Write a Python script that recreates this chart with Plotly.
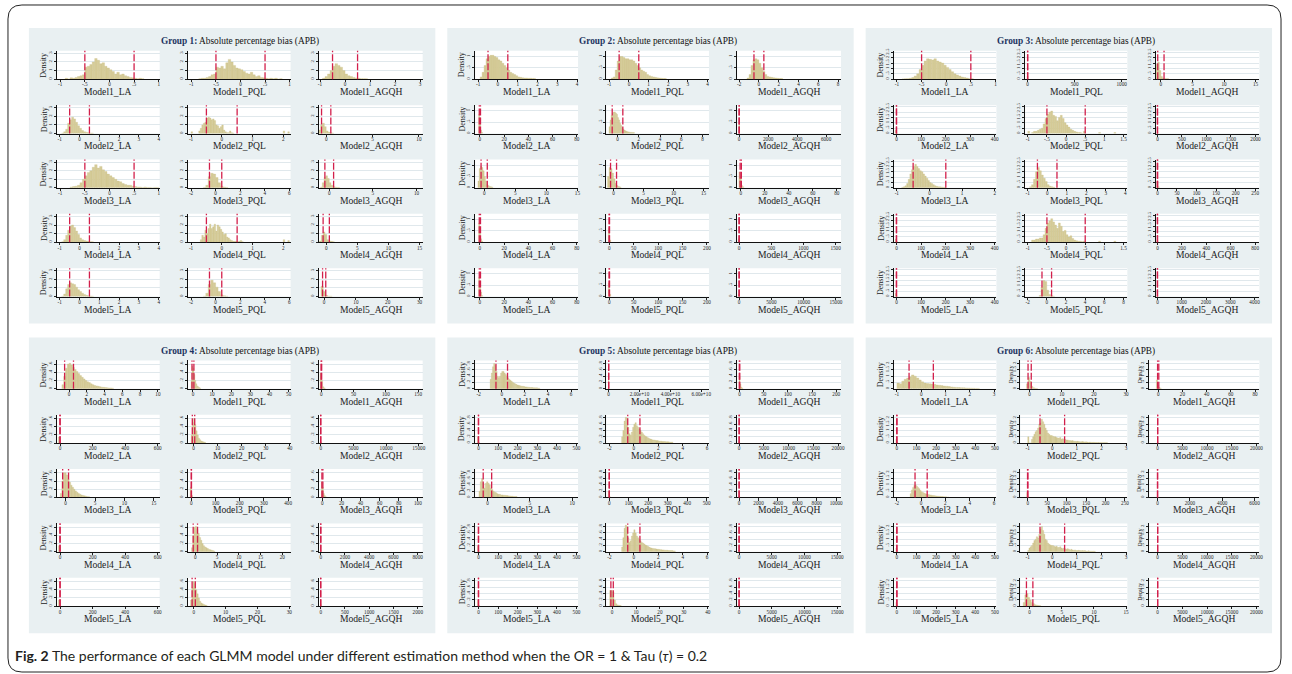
import re
import plotly.graph_objects as go

W, H = 1292, 674

MODELS = ["Model1", "Model2", "Model3", "Model4", "Model5"]
METHODS = ["LA", "PQL", "AGQH"]
GROUP_LABELS = ["Group 1:", "Group 2:", "Group 3:", "Group 4:", "Group 5:", "Group 6:"]
SUBTITLE = "Absolute percentage bias (APB)"
BOUNDS = [-0.5, 0.5]
CAPTION_BOLD = "Fig. 2"
CAPTION = "The performance of each GLMM model under different estimation method when the OR = 1 &amp; Tau (<i>τ</i>) = 0.2"

Y_TICKS = [[0, 1, 2, 3], [0, .5, 1], [0, .5, 1, 1.5, 2, 2.5], [0, .2, .4, .6], [0, .2, .4, .6, .8], [0, .5, 1, 1.5, 2]]
Y_TOP = [3.3, 1.25, 2.65, 0.69, 0.9, 2.25]

# ---------------- Group 1 ----------------
G1_RANGE = [[-1.07, 1.02], [-1.07, 1.02], [-1.05, 3.1],
            [-1.15, 4.05], [-1.1, 2.24], [-0.8, 10.4],
            [-1.07, 1.02], [-2.25, 6.1], [-1.2, 10.7],
            [-1.15, 4.05], [-1.1, 2.24], [-1.2, 15.5],
            [-1.15, 4.05], [-2.25, 6.1], [-1.7, 31]]
G1_TICKS = [[-1, -.5, 0, .5, 1], [-1, -.5, 0, .5, 1], [-1, 0, 1, 2, 3],
            [-1, 0, 1, 2, 3, 4], [-1, 0, 1, 2], [0, 5, 10],
            [-1, -.5, 0, .5, 1], [-2, 0, 2, 4, 6], [0, 5, 10],
            [-1, 0, 1, 2, 3, 4], [-1, 0, 1, 2], [0, 5, 10, 15],
            [-1, 0, 1, 2, 3, 4], [-2, 0, 2, 4, 6], [0, 10, 20, 30]]
G1_HIST = [
    [-0.9, 0.05, [0.1, 0, 0.15, 0.1, 0.2, 0.3, 0.4, 0.5, 1.4, 1.5, 1.7, 2.0, 2.4, 2.2, 1.8, 1.9, 1.5, 1.3, 1.1, 0.9, 0.6, 0.8, 0.5, 0.6, 0.4, 0.3, 0.2, 0.15, 0.1, 0.05, 0.1, 0.05]],
    [-0.85, 0.05, [0.05, 0.1, 0.1, 0.2, 0.3, 0.5, 0.6, 1.4, 1.3, 1.5, 1.2, 1.9, 2.3, 2.0, 1.6, 1.3, 1.2, 1.1, 0.9, 0.7, 0.6, 0.8, 0.5, 0.3, 0.4, 0.2, 0.15, 0.1, 0.05, 0.1, 0.05, 0.1, 0, 0.05]],
    [-0.9, 0.1, [0.1, 0.3, 0.6, 1.0, 1.5, 1.8, 1.6, 1.4, 1.0, 0.6, 0.4, 0.3, 0.2, 0.12, 0.1, 0.06, 0.05, 0.05]],
    [-0.9, 0.1, [0.05, 0.2, 0.5, 1.2, 1.6, 1.9, 1.7, 1.3, 0.9, 0.6, 0.35, 0.2, 0.15, 0.1, 0.06, 0.05]],
    [-0.75, 0.05, [0.3, 0.6, 1.0, 1.2, 1.3, 1.8, 1.9, 1.8, 1.6, 1.7, 1.5, 1.0, 0.9, 0.6, 0.8, 1.0, 0.4, 0.2, 0.1, 0.1, 0.3, 0.1, 0.05]],
    [-1.0, 0.2, [0.1, 0.4, 1.0, 1.2, 0.8, 0.3, 0.15, 0.1, 0.05]],
    [-0.8, 0.05, [0.1, 0.15, 0.2, 0.3, 0.6, 1.0, 1.4, 1.8, 2.0, 2.4, 2.7, 2.3, 2.5, 2.1, 1.9, 1.6, 1.4, 1.2, 1.0, 0.8, 0.7, 0.5, 0.4, 0.3, 0.3, 0.2, 0.15, 0.1, 0.1, 0.05, 0.1, 0.05, 0.05, 0, 0.05, 0.05]],
    [-1.0, 0.2, [0.05, 0.3, 1.3, 1.7, 1.6, 1.2, 0.6, 0.2, 0.1, 0.05]],
    [-1.0, 0.2, [0.1, 0.6, 1.2, 1.4, 1.1, 0.6, 0.3, 0.15, 0.1, 0.05, 0.05]],
    [-0.9, 0.1, [0.05, 0.3, 0.8, 1.4, 1.9, 2.0, 1.7, 1.3, 0.9, 0.5, 0.3, 0.2, 0.15, 0.1, 0.06, 0.05]],
    [-0.7, 0.05, [0.3, 0.8, 0.6, 1.4, 1.0, 1.6, 2.1, 1.6, 1.8, 2.1, 1.3, 2.0, 1.8, 1.5, 1.2, 0.9, 1.0, 0.6, 0.5, 0.3, 0.2, 0.1, 0.1, 0.1, 0.05, 0.1, 0.2, 0.05]],
    [-1.1, 0.3, [0.15, 0.8, 1.2, 0.9, 0.3, 0.15, 0.1, 0.05]],
    [-0.9, 0.1, [0.05, 0.3, 0.9, 1.4, 1.6, 1.5, 1.4, 1.1, 0.8, 0.6, 0.4, 0.25, 0.15, 0.1, 0.06, 0.05]],
    [-1.0, 0.2, [0.05, 0.4, 1.4, 1.9, 1.6, 1.1, 0.6, 0.2, 0.1, 0.05]],
    [-1.0, 0.7, [1.2, 0.6, 0.15, 0.05, 0.05]],
]
G1_EXTRA = [[], [], [], [], [[-0.975, 0.2], [2.025, 0.3], [2.175, 0.2]], [], [], [], [],
            [], [[2.025, 0.3], [2.175, 0.2]], [], [], [], []]

# ---------------- Group 2 ----------------
G2_RANGE = [[-1.15, 4.05], [-1.15, 4.07], [-2.2, 8.3],
            [-3.9, 81], [-1.05, 8.6], [-140, 7030],
            [-1.45, 15.1], [-1.2, 15.9], [-3, 83.6],
            [-3.9, 81], [-6, 204], [-31, 1585],
            [-3.9, 81], [-6, 204], [-310, 15800]]
G2_TICKS = [[-1, 0, 1, 2, 3, 4], [-1, 0, 1, 2, 3, 4], [-2, 0, 2, 4, 6, 8],
            [0, 20, 40, 60, 80], [0, 2, 4, 6, 8], [0, 2000, 4000, 6000],
            [0, 5, 10, 15], [0, 5, 10, 15], [0, 20, 40, 60, 80],
            [0, 20, 40, 60, 80], [0, 50, 100, 150, 200], [0, 500, 1000, 1500],
            [0, 20, 40, 60, 80], [0, 50, 100, 150, 200], [0, 5000, 10000, 15000]]
G2_HIST = [
    [-0.9, 0.1, [0.1, 0.3, 0.6, 0.9, 1.0, 1.05, 1.05, 1.0, 0.95, 0.85, 0.8, 0.7, 0.6, 0.5, 0.4, 0.3, 0.25, 0.2, 0.15, 0.1, 0.08, 0.06, 0.05, 0.05, 0.04, 0.04, 0.03, 0.03]],
    [-0.9, 0.1, [0.05, 0.1, 0.4, 0.8, 1.0, 1.0, 0.95, 0.9, 0.9, 0.85, 0.85, 0.8, 0.7, 0.6, 0.5, 0.4, 0.35, 0.3, 0.2, 0.15, 0.12, 0.1, 0.08, 0.06, 0.05, 0.04, 0.03, 0.03]],
    [-1.2, 0.2, [0.05, 0.2, 0.6, 0.85, 0.9, 0.85, 0.7, 0.5, 0.35, 0.2, 0.12, 0.1, 0.08, 0.06, 0.05, 0.04, 0.03, 0.03]],
    [-1.0, 0.8, [0.85, 0.7, 0.15, 0.05]],
    [-0.8, 0.1, [0.3, 0.6, 0.8, 0.9, 0.95, 0.95, 0.9, 0.85, 0.7, 0.6, 0.45, 0.35, 0.25, 0.2, 0.15, 0.12, 0.1, 0.08, 0.07, 0.06, 0.05, 0.05, 0.04, 0.04]],
    [-25, 50, [0.4]],
    [-1.0, 0.2, [0.3, 0.85, 0.95, 0.9, 0.75, 0.5, 0.3, 0.15, 0.1, 0.06, 0.05, 0.04]],
    [-1.0, 0.25, [0.5, 0.9, 0.85, 0.65, 0.4, 0.2, 0.1, 0.06, 0.04]],
    [-1.5, 1.0, [0.7, 0.5, 0.1, 0.05]],
    [-1.0, 0.8, [0.85, 0.7, 0.15, 0.05]],
    [-2.0, 2.5, [0.6, 0.1]],
    [-15, 20, [0.15]],
    [-1.0, 0.8, [0.85, 0.7, 0.2, 0.05]],
    [-2.0, 2.5, [0.6, 0.1]],
    [-150, 200, [0.1]],
]
G2_EXTRA = [[] for _ in range(15)]

# ---------------- Group 3 ----------------
G3_RANGE = [[-1.07, 1.02], [-31, 1060], [-0.85, 15.6],
            [-12, 407], [-1.08, 1.6], [-40, 2080],
            [-1.1, 2.05], [-1.15, 4.1], [-5, 261],
            [-12, 407], [-1.08, 1.6], [-16, 835],
            [-12, 407], [-2.3, 8.4], [-80, 4200]]
G3_TICKS = [[-1, -.5, 0, .5, 1], [0, 500, 1000], [0, 5, 10, 15],
            [0, 100, 200, 300, 400], [-1, -.5, 0, .5, 1, 1.5], [0, 500, 1000, 1500, 2000],
            [-1, 0, 1, 2], [-1, 0, 1, 2, 3, 4], [0, 50, 100, 150, 200, 250],
            [0, 100, 200, 300, 400], [-1, -.5, 0, .5, 1, 1.5], [0, 200, 400, 600, 800],
            [0, 100, 200, 300, 400], [-2, 0, 2, 4, 6, 8], [0, 1000, 2000, 3000, 4000]]
G3_HIST = [
    [-0.9, 0.05, [0.02, 0.03, 0.05, 0.08, 0.15, 0.3, 0.5, 0.9, 1.3, 1.7, 1.9, 1.85, 1.8, 1.9, 1.7, 1.6, 1.5, 1.3, 1.1, 0.9, 0.7, 0.5, 0.4, 0.3, 0.2, 0.15, 0.1, 0.05, 0.05]],
    [-5, 10, [0.3]],
    [-1.0, 0.25, [0.3, 1.4, 1.6, 0.8, 0.25, 0.1, 0.05, 0.05, 0.05]],
    [-5, 5, [0.3, 0.05]],
    [-0.9, 0.05, [0.1, 0.2, 0.2, 0.3, 0.4, 0.5, 0.9, 1.4, 1.8, 2.0, 2.1, 1.7, 1.6, 1.2, 1.5, 1.7, 1.4, 1.0, 0.8, 0.6, 0.4, 0.3, 0.2, 0.15, 0.1, 0.1, 0, 0.2]],
    [-10, 20, [0.15]],
    [-0.85, 0.05, [0.05, 0.1, 0.2, 0.4, 0.8, 1.3, 1.7, 2.0, 2.2, 2.0, 1.8, 1.6, 1.5, 1.3, 1.1, 0.9, 0.7, 0.5, 0.4, 0.3, 0.2, 0.15, 0.1, 0.1, 0.08, 0.05, 0.05]],
    [-0.9, 0.1, [0.1, 0.3, 0.8, 1.5, 1.9, 1.6, 1.2, 0.9, 0.6, 0.3, 0.15, 0.1, 0.05]],
    [-1.5, 3, [0.6, 0.1]],
    [-5, 5, [0.3, 0.05]],
    [-0.9, 0.05, [0.2, 0.2, 0.3, 0.3, 0.4, 0.4, 0.7, 1.3, 1.8, 2.0, 2.2, 1.9, 1.6, 1.3, 1.8, 1.5, 1.0, 1.1, 0.7, 0.5, 0.6, 0.35, 0.2, 0.15, 0.1, 0.1, 0.05, 0.1]],
    [-5, 10, [0.15]],
    [-5, 5, [0.3, 0.05]],
    [-0.8, 0.2, [0.1, 0.9, 1.5, 1.4, 0.6, 0.2, 0.1, 0.05]],
    [-20, 40, [0.1]],
]
G3_EXTRA = [[], [], [], [], [[-0.975, 0.2], [0.875, 0.1], [1.275, 0.1]], [], [], [], [],
            [], [[0.875, 0.1], [1.275, 0.1]], [], [], [], []]

# ---------------- Group 4 ----------------
G4_RANGE = [[-1.38, 10.2], [-2.6, 51], [-4, 157],
            [-20, 612], [-2.3, 40.3], [-300, 15600],
            [-1.5, 16], [-14, 410], [-3.8, 105],
            [-20, 612], [-1.7, 21.9], [-165, 8410],
            [-20, 612], [-1.8, 30.4], [-40, 2100]]
G4_TICKS = [[0, 2, 4, 6, 8, 10], [0, 10, 20, 30, 40, 50], [0, 50, 100, 150],
            [0, 200, 400, 600], [0, 10, 20, 30, 40], [0, 5000, 10000, 15000],
            [0, 5, 10, 15], [0, 100, 200, 300, 400], [0, 20, 40, 60, 80, 100],
            [0, 200, 400, 600], [0, 5, 10, 15, 20], [0, 2000, 4000, 6000, 8000],
            [0, 200, 400, 600], [0, 10, 20, 30], [0, 500, 1000, 1500, 2000]]
G4_HIST = [
    [-0.8, 0.2, [0.1, 0.3, 0.5, 0.6, 0.62, 0.58, 0.52, 0.47, 0.42, 0.37, 0.32, 0.28, 0.24, 0.2, 0.17, 0.15, 0.12, 0.1, 0.08, 0.07, 0.06, 0.05, 0.04, 0.035, 0.03, 0.025, 0.02, 0.02, 0.015]],
    [-1.0, 0.5, [0.2, 0.55, 0.5, 0.35, 0.2, 0.12, 0.07, 0.05, 0.03, 0.02]],
    [-2, 2, [0.38, 0.2, 0.05, 0.02]],
    [-10, 10, [0.15]],
    [-1.0, 0.5, [0.2, 0.5, 0.6, 0.45, 0.3, 0.2, 0.12, 0.08, 0.05, 0.04, 0.03, 0.02]],
    [-100, 200, [0.03]],
    [-0.9, 0.25, [0.1, 0.4, 0.6, 0.6, 0.55, 0.45, 0.37, 0.3, 0.25, 0.2, 0.16, 0.13, 0.1, 0.08, 0.06, 0.05, 0.04, 0.03, 0.02, 0.02]],
    [-5, 5, [0.25, 0.05]],
    [-1, 1, [0.38, 0.25, 0.1, 0.05, 0.02]],
    [-10, 10, [0.15]],
    [-0.9, 0.3, [0.1, 0.4, 0.6, 0.62, 0.55, 0.45, 0.35, 0.28, 0.2, 0.15, 0.12, 0.1, 0.08, 0.06, 0.05, 0.04, 0.03, 0.02]],
    [-50, 100, [0.03]],
    [-10, 10, [0.15]],
    [-1.0, 0.4, [0.15, 0.45, 0.6, 0.55, 0.4, 0.3, 0.2, 0.12, 0.08, 0.06, 0.04, 0.03, 0.02]],
    [-10, 20, [0.05]],
]
G4_EXTRA = [[] for _ in range(15)]

# ---------------- Group 5 ----------------
G5_RANGE = [[-2.3, 6.6], [-1.5e9, 6.5e10], [-5, 210],
            [-17, 508], [-2.25, 6.15], [-410, 20600],
            [-1.45, 10.7], [-15, 512], [-205, 10500],
            [-17, 508], [-2.25, 6.15], [-300, 15600],
            [-17, 508], [-2.4, 40.5], [-300, 15600]]
G5_TICKS = [[-2, 0, 2, 4, 6], [0, 2e10, 4e10, 6e10], [0, 50, 100, 150, 200],
            [0, 100, 200, 300, 400, 500], [-2, 0, 2, 4, 6], [0, 5000, 10000, 15000, 20000],
            [0, 5, 10], [0, 100, 200, 300, 400, 500], [0, 2000, 4000, 6000, 8000, 10000],
            [0, 100, 200, 300, 400, 500], [-2, 0, 2, 4, 6], [0, 5000, 10000, 15000],
            [0, 100, 200, 300, 400, 500], [0, 10, 20, 30, 40], [0, 5000, 10000, 15000]]
G5_HIST = [
    [-1.0, 0.1, [0.3, 0.5, 0.7, 0.8, 0.75, 0.55, 0.4, 0.35, 0.4, 0.5, 0.55, 0.55, 0.5, 0.45, 0.4, 0.35, 0.3, 0.27, 0.24, 0.21, 0.18, 0.16, 0.14, 0.12, 0.11, 0.1, 0.09, 0.08, 0.08, 0.07, 0.06, 0.06, 0.05, 0.05, 0.04, 0.04, 0.04, 0.03, 0.03, 0.03, 0.03, 0.02, 0.02]],
    [-1e8, 2e8, [0.3]],
    [-1, 2, [0.4, 0.15, 0.05, 0.02]],
    [-5, 5, [0.2, 0.03]],
    [-1.0, 0.1, [0.2, 0.4, 0.7, 0.82, 0.8, 0.5, 0.3, 0.25, 0.35, 0.5, 0.6, 0.65, 0.55, 0.5, 0.45, 0.4, 0.35, 0.3, 0.25, 0.22, 0.2, 0.17, 0.15, 0.13, 0.12, 0.1, 0.1, 0.09, 0.08, 0.08, 0.07, 0.06, 0.06, 0.05, 0.05, 0.05, 0.04, 0.04, 0.04, 0.03, 0.03, 0.03]],
    [-100, 200, [0.05]],
    [-1.0, 0.15, [0.2, 0.5, 0.6, 0.45, 0.3, 0.45, 0.5, 0.45, 0.4, 0.3, 0.25, 0.2, 0.17, 0.15, 0.12, 0.1, 0.1, 0.08, 0.08, 0.07, 0.07, 0.06, 0.06, 0.05, 0.05, 0.04, 0.04, 0.03, 0.03, 0.03]],
    [-5, 5, [0.2, 0.03]],
    [-50, 100, [0.05]],
    [-5, 5, [0.18, 0.03]],
    [-1.0, 0.1, [0.15, 0.45, 0.75, 0.85, 0.8, 0.45, 0.3, 0.35, 0.5, 0.6, 0.7, 0.6, 0.5, 0.45, 0.4, 0.35, 0.3, 0.28, 0.25, 0.22, 0.2, 0.18, 0.15, 0.13, 0.12, 0.11, 0.1, 0.1, 0.09, 0.08, 0.08, 0.07, 0.07, 0.06, 0.06, 0.05, 0.05, 0.05, 0.04, 0.04, 0.04, 0.04, 0.03, 0.03]],
    [-100, 200, [0.05]],
    [-5, 5, [0.2, 0.03]],
    [-1.0, 0.6, [0.5, 0.5, 0.45, 0.2, 0.08, 0.04, 0.03, 0.02]],
    [-100, 200, [0.05]],
]
G5_EXTRA = [[] for _ in range(15)]

# ---------------- Group 6 ----------------
G6_RANGE = [[-1.14, 3.1], [-2.9, 30.4], [-7.4, 83.6],
            [-17, 508], [-1.3, 3.05], [-1700, 20600],
            [-2.27, 6.2], [-19, 256], [-514, 6300],
            [-17, 508], [-1.3, 3.05], [-1700, 20600],
            [-17, 508], [-1.45, 15.2], [-1700, 20600]]
G6_TICKS = [[-1, 0, 1, 2, 3], [0, 10, 20, 30], [0, 20, 40, 60, 80],
            [0, 100, 200, 300, 400, 500], [-1, 0, 1, 2, 3], [0, 5000, 10000, 15000, 20000],
            [-2, 0, 2, 4, 6], [0, 50, 100, 150, 200, 250], [0, 2000, 4000, 6000],
            [0, 100, 200, 300, 400, 500], [-1, 0, 1, 2, 3], [0, 5000, 10000, 15000, 20000],
            [0, 100, 200, 300, 400, 500], [0, 5, 10, 15], [0, 5000, 10000, 15000, 20000]]
G6_HIST = [
    [-1.0, 0.1, [0.45, 0.4, 0.6, 0.75, 0.85, 0.95, 1.1, 1.0, 0.85, 0.7, 0.55, 0.45, 0.42, 0.4, 0.38, 0.35, 0.3, 0.28, 0.25, 0.22, 0.2, 0.18, 0.15, 0.12, 0.11, 0.1, 0.09, 0.08, 0.07, 0.06, 0.05, 0.04, 0.03, 0.03]],
    [-1.0, 0.5, [0.4, 0.9, 0.6, 0.2, 0.08, 0.04, 0.02]],
    [-1.5, 1, [0.7, 0.3, 0.1, 0.05]],
    [-5, 5, [0.3, 0.05]],
    [-1.0, 0.05, [0.5, 0, 0, 0.3, 0.5, 0.7, 0.9, 1.0, 1.2, 1.5, 1.6, 1.9, 1.7, 1.5, 1.2, 1.0, 0.8, 0.7, 0.6, 0.6, 0.55, 0.5, 0.5, 0.45, 0.4, 0.4, 0.45, 0.3, 0.35, 0.3, 0.3, 0.25, 0.25, 0.2, 0.2, 0.18, 0.2, 0.15, 0.15, 0.12, 0.15, 0.12, 0.1, 0.1, 0.12, 0.1, 0.08, 0.1, 0.08, 0.06, 0.08, 0.06, 0.05, 0.06, 0.05, 0.05, 0.04, 0.05, 0.04, 0.04, 0.03, 0.03, 0.03, 0.03, 0.03]],
    [-100, 200, [0.05]],
    [-0.9, 0.1, [0.3, 0.6, 0.8, 0.95, 1.0, 0.9, 0.8, 0.7, 0.55, 0.45, 0.4, 0.35, 0.3, 0.28, 0.25, 0.22, 0.2, 0.18, 0.16, 0.15, 0.13, 0.12, 0.1, 0.1, 0.09, 0.08, 0.07, 0.06, 0.05, 0.05, 0.04, 0.04]],
    [-2.5, 3, [0.4, 0.05]],
    [-30, 60, [0.03]],
    [-5, 5, [0.3, 0.05]],
    [-1.0, 0.05, [0.1, 0.3, 0.4, 0.5, 0.7, 0.9, 1.0, 1.2, 1.1, 1.4, 1.8, 2.0, 1.7, 1.4, 1.0, 0.9, 0.7, 0.6, 0.55, 0.5, 0.5, 0.45, 0.4, 0.45, 0.35, 0.35, 0.4, 0.3, 0.25, 0.3, 0.25, 0.2, 0.25, 0.2, 0.15, 0.2, 0.15, 0.12, 0.15, 0.1, 0.1, 0.12, 0.1, 0.08, 0.1, 0.08, 0.1, 0.06, 0.05, 0.08, 0.05, 0.05, 0.04, 0.05, 0.04]],
    [-100, 200, [0.05]],
    [-5, 5, [0.3, 0.05]],
    [-1.0, 0.25, [0.3, 0.9, 1.0, 0.7, 0.5, 0.3, 0.2, 0.12, 0.08, 0.05, 0.04]],
    [-100, 200, [0.05]],
]
G6_EXTRA = [[] for _ in range(15)]

GROUPS = [
    (G1_RANGE, G1_TICKS, G1_HIST, G1_EXTRA),
    (G2_RANGE, G2_TICKS, G2_HIST, G2_EXTRA),
    (G3_RANGE, G3_TICKS, G3_HIST, G3_EXTRA),
    (G4_RANGE, G4_TICKS, G4_HIST, G4_EXTRA),
    (G5_RANGE, G5_TICKS, G5_HIST, G5_EXTRA),
    (G6_RANGE, G6_TICKS, G6_HIST, G6_EXTRA),
]

# ---------------- styling ----------------
PANEL_BG = "#e9f0f2"
BAR_FILL = "#d6cc99"
BAR_EDGE = "#cabe86"
DASH_COLOR = "#d21f4b"
GRID = "#e0e8ec"
SERIF = "Liberation Serif"
NAVY = "#1d3461"


def fmt(v):
    if abs(v) >= 1e9:
        return "%.2e" % v
    if float(v).is_integer():
        return str(int(v))
    s = "%g" % v
    return re.sub(r"^(-?)0\.", r"\1.", s)


def X(px):
    return px / W


def Y(py):
    return 1 - py / H


fig = go.Figure()
layout = dict(width=W, height=H, margin=dict(l=0, r=0, t=0, b=0),
              paper_bgcolor="white", plot_bgcolor="rgba(0,0,0,0)",
              showlegend=False, barmode="overlay", font=dict(family=SERIF, color="#222"))
shapes = []
annotations = []

# outer rounded frame
x0, y0, x1, y1, r = 7, 2, 1285, 672, 14
path = (f"M {X(x0 + r)},{Y(y0)} L {X(x1 - r)},{Y(y0)} Q {X(x1)},{Y(y0)} {X(x1)},{Y(y0 + r)} "
        f"L {X(x1)},{Y(y1 - r)} Q {X(x1)},{Y(y1)} {X(x1 - r)},{Y(y1)} "
        f"L {X(x0 + r)},{Y(y1)} Q {X(x0)},{Y(y1)} {X(x0)},{Y(y1 - r)} "
        f"L {X(x0)},{Y(y0 + r)} Q {X(x0)},{Y(y0)} {X(x0 + r)},{Y(y0)} Z")
shapes.append(dict(type="path", path=path, xref="paper", yref="paper",
                   line=dict(color="#222", width=1), layer="below"))

COL_LEFT = [28, 159.7, 291]
COL_LEFT_G6 = [28, 155.3, 284.7]
COL_RIGHT = [131.3, 262.7, 395.3]

for g in range(6):
    rng, ticks, hist, extra = GROUPS[g]
    pcol, prow = g % 3, g // 3
    px0 = 28 + 420 * pcol
    py0 = 25 + 311 * prow
    shapes.append(dict(type="rect", xref="paper", yref="paper", x0=X(px0), x1=X(px0 + 408),
                       y0=Y(py0 + 297), y1=Y(py0), fillcolor=PANEL_BG, line=dict(width=0), layer="below"))
    annotations.append(dict(x=X(px0 + 211.5), y=Y(py0 + 14), xref="paper", yref="paper",
                            text=f"<span style='color:{NAVY}'><b>{GROUP_LABELS[g]}</b></span> {SUBTITLE}",
                            showarrow=False, font=dict(family=SERIF, size=9.3, color="#111"),
                            xanchor="center", yanchor="middle"))
    lefts = COL_LEFT_G6 if g == 5 else COL_LEFT
    for i in range(15):
        rr, cc = divmod(i, 3)
        k = g * 15 + i
        aid = "" if k == 0 else str(k + 1)
        L = px0 + lefts[cc]
        R = px0 + COL_RIGHT[cc]
        T = py0 + 23 + 54.6 * rr
        B = T + 28.5
        shapes.append(dict(type="rect", xref="paper", yref="paper", x0=X(L), x1=X(R),
                           y0=Y(B), y1=Y(T), fillcolor="white", line=dict(width=0), layer="below"))
        start, w, hs = hist[i]
        xs = [start + w * (j + 0.5) for j in range(len(hs))]
        ys = list(hs)
        for ex, eh in extra[i]:
            xs.append(ex)
            ys.append(eh)
        fig.add_trace(go.Bar(x=xs, y=ys, width=w, xaxis="x" + aid, yaxis="y" + aid,
                             marker=dict(color=BAR_FILL, line=dict(color=BAR_EDGE, width=0.3)),
                             hoverinfo="skip"))
        layout["xaxis" + aid] = dict(domain=[X(L), X(R)], range=rng[i], anchor="y" + aid,
                                     tickvals=ticks[i], ticktext=[fmt(v) for v in ticks[i]],
                                     tickfont=dict(family=SERIF, size=5.2, color="#222"),
                                     ticks="outside", ticklen=2.2, tickwidth=0.6, tickcolor="#222",
                                     ticklabelstandoff=-2,
                                     showline=True, linecolor="#111", linewidth=0.8,
                                     showgrid=False, zeroline=False, fixedrange=True)
        yt = Y_TICKS[g]
        layout["yaxis" + aid] = dict(domain=[Y(B), Y(T)], range=[0, Y_TOP[g]], anchor="x" + aid,
                                     tickvals=yt, ticktext=[fmt(v) for v in yt], tickangle=-90,
                                     tickfont=dict(family=SERIF, size=4.8, color="#222"),
                                     ticks="outside", ticklen=2, tickwidth=0.6, tickcolor="#222",
                                     showline=True, linecolor="#111", linewidth=0.8,
                                     showgrid=True, gridcolor=GRID, gridwidth=0.8,
                                     zeroline=False, fixedrange=True)
        for bnd in BOUNDS:
            shapes.append(dict(type="line", xref="x" + aid, yref="y" + aid + " domain",
                               x0=bnd, x1=bnd, y0=0, y1=1,
                               line=dict(color=DASH_COLOR, width=1.3, dash="7px,2px")))
        annotations.append(dict(x=X((L + R) / 2), y=Y(B + 12.5), xref="paper", yref="paper",
                                text=f"{MODELS[rr]}_{METHODS[cc]}", showarrow=False,
                                font=dict(family=SERIF, size=9.6, color="#222"),
                                xanchor="center", yanchor="middle"))
        if cc == 0:
            annotations.append(dict(x=X(L - 13), y=Y((T + B) / 2), xref="paper", yref="paper",
                                    text="Density", showarrow=False, textangle=-90,
                                    font=dict(family=SERIF, size=8, color="#222"),
                                    xanchor="center", yanchor="middle"))
        elif g == 5:
            annotations.append(dict(x=X(L - 9.5), y=Y((T + B) / 2), xref="paper", yref="paper",
                                    text="Density", showarrow=False, textangle=-90,
                                    font=dict(family=SERIF, size=5.8, color="#222"),
                                    xanchor="center", yanchor="middle"))

annotations.append(dict(x=X(12), y=Y(655), xref="paper", yref="paper",
                        text=f"<b>{CAPTION_BOLD}</b> {CAPTION}", showarrow=False,
                        font=dict(family="Lato", size=14, color="#231f20"),
                        xanchor="left", yanchor="middle"))

layout["shapes"] = shapes
layout["annotations"] = annotations
fig.update_layout(**layout)
fig.write_html("out.html", config={"displayModeBar": False},
               post_script="document.body.style.margin='0px';")
